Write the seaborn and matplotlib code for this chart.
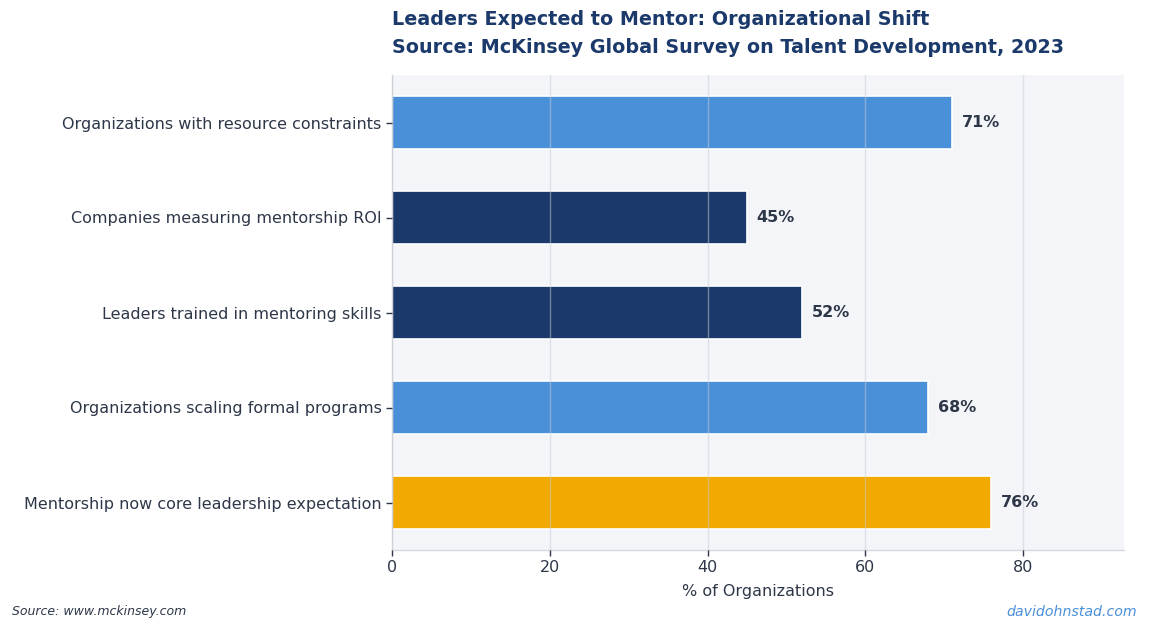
import matplotlib
matplotlib.use("Agg")
import matplotlib.pyplot as plt
import seaborn as sns
import pandas as pd

categories = [
    "Organizations with resource constraints",
    "Companies measuring mentorship ROI",
    "Leaders trained in mentoring skills",
    "Organizations scaling formal programs",
    "Mentorship now core leadership expectation",
]
values = [71, 45, 52, 68, 76]
colors = ["#4A90D9", "#1B3A6B", "#1B3A6B", "#4A90D9", "#F2A900"]
xticks = [0, 20, 40, 60, 80]

sns.set_theme(style="white")
plt.rcParams["font.family"] = ["DejaVu Sans"]

df = pd.DataFrame({"cat": categories, "val": values})

fig = plt.figure(figsize=(11.5, 6.31), dpi=100)
ax = fig.add_axes([392 / 1150, 1 - 550 / 631, (1124 - 392) / 1150, (550 - 75) / 631])
ax.set_facecolor("#F4F5F9")

sns.barplot(data=df, y="cat", x="val", hue="cat", palette=colors, dodge=False,
            legend=False, orient="h", width=0.55, edgecolor="white", linewidth=1.2,
            saturation=1, ax=ax)

ax.set_xlim(0, 92.8)
ax.set_ylim(4.5, -0.5)
ax.set_xticks(xticks)
ax.set_axisbelow(False)
ax.grid(axis="x", color="#C8CCD4", alpha=0.5, linewidth=1)
ax.grid(axis="y", visible=False)

for i, v in enumerate(values):
    ax.text(v + 1.2, i, f"{v}%", va="center", ha="left", fontsize=11.5,
            fontweight="bold", color="#2D3748")

ax.set_ylabel("")
ax.set_xlabel("% of Organizations", fontsize=11.5, color="#2D3748", labelpad=6)
ax.tick_params(axis="both", labelsize=11.5, labelcolor="#2D3748", color="#2D3748",
               length=4, width=1, bottom=True, left=True)
for s in ["top", "right"]:
    ax.spines[s].set_visible(False)
for s in ["left", "bottom"]:
    ax.spines[s].set_color("#D5D8DE")
    ax.spines[s].set_linewidth(1)

ax.set_title("Leaders Expected to Mentor: Organizational Shift\nSource: McKinsey Global Survey on Talent Development, 2023",
             loc="left", fontsize=13.75, fontweight="bold", color="#1B3A6B", pad=16, linespacing=1.6)

fig.text(12 / 1150, 1 - 612 / 631, "Source: www.mckinsey.com", fontsize=9, style="italic",
         color="#2D3748", va="center", ha="left")
fig.text(1137 / 1150, 1 - 612 / 631, "davidohnstad.com", fontsize=10.2, style="italic",
         color="#4A90D9", va="center", ha="right")

fig.savefig("out.png", dpi=100, facecolor="white")
